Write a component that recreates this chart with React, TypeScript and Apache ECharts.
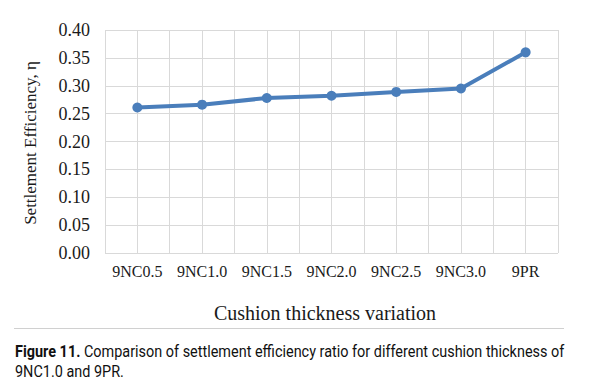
import React, { useEffect, useRef } from "react";
import * as echarts from "echarts";

const categories = ["9NC0.5", "9NC1.0", "9NC1.5", "9NC2.0", "9NC2.5", "9NC3.0", "9PR"];
const efficiency = [0.261, 0.266, 0.278, 0.282, 0.289, 0.295, 0.36];
const yTicks = { min: 0, max: 0.4, interval: 0.05 };
const yTitle = "Settlement Efficiency, η";
const xTitle = "Cushion thickness variation";
const captionBold = "Figure 11.";
const captionLine1 = " Comparison of settlement efficiency ratio for different cushion thickness of";
const captionLine2 = "9NC1.0 and 9PR.";

export default function App() {
  const ref = useRef<HTMLDivElement>(null);
  useEffect(() => {
    if (!ref.current) return;
    const chart = echarts.init(ref.current, null, { renderer: "svg" });
    const serif = "'Liberation Serif', 'DejaVu Serif', serif";
    const cap = "'Roboto', 'Liberation Sans', sans-serif";
    chart.setOption({
      animation: false,
      backgroundColor: "#ffffff",
      grid: { left: 105, right: 34, top: 30, bottom: 138, containLabel: false },
      xAxis: [
        {
          type: "category",
          data: categories,
          boundaryGap: true,
          axisLine: { show: false },
          axisTick: { show: false },
          splitLine: { show: false },
          axisLabel: { color: "#1a1a1a", fontFamily: serif, fontSize: 16, margin: 10, interval: 0 },
        },
        {
          type: "value",
          min: 0,
          max: categories.length * 2,
          interval: 1,
          show: true,
          axisLine: { show: false },
          axisTick: { show: false },
          axisLabel: { show: false },
          splitLine: { show: true, lineStyle: { color: "#d9d9d9", width: 1 } },
        },
      ],
      yAxis: {
        type: "value",
        min: yTicks.min,
        max: yTicks.max,
        interval: yTicks.interval,
        axisLine: { show: false },
        axisTick: { show: false },
        axisLabel: {
          color: "#1a1a1a",
          fontFamily: serif,
          fontSize: 18,
          margin: 15,
          formatter: (v: number) => v.toFixed(2),
        },
        splitLine: { show: true, lineStyle: { color: "#d9d9d9", width: 1 } },
      },
      series: [
        {
          type: "line",
          xAxisIndex: 0,
          data: efficiency,
          symbol: "circle",
          symbolSize: 10,
          lineStyle: { color: "#4a7ebb", width: 4 },
          itemStyle: { color: "#4a7ebb" },
        },
      ],
      graphic: [
        {
          type: "text",
          x: 30,
          y: 143,
          rotation: Math.PI / 2,
          style: {
            text: yTitle,
            fill: "#1a1a1a",
            font: `17px ${serif}`,
            align: "center",
            verticalAlign: "middle",
          },
        },
        {
          type: "text",
          x: 325,
          y: 313,
          style: {
            text: xTitle,
            fill: "#1a1a1a",
            font: `20px ${serif}`,
            align: "center",
            verticalAlign: "middle",
          },
        },
        {
          type: "line",
          shape: { x1: 14, y1: 328.5, x2: 564, y2: 328.5 },
          style: { stroke: "#d0d0d0", lineWidth: 1 },
        },
        {
          type: "text",
          x: 15,
          y: 352,
          scaleX: 0.875,
          style: {
            text: `{b|${captionBold}}{r|${captionLine1}}`,
            verticalAlign: "middle",
            rich: {
              b: { font: `bold 16.5px ${cap}`, fill: "#111" },
              r: { font: `16.5px ${cap}`, fill: "#111" },
            },
          },
        },
        {
          type: "text",
          x: 15,
          y: 372,
          scaleX: 0.875,
          style: {
            text: captionLine2,
            fill: "#111",
            font: `16.5px ${cap}`,
            verticalAlign: "middle",
          },
        },
      ],
    });
    return () => chart.dispose();
  }, []);
  return <div ref={ref} style={{ width: 592, height: 391, margin: -8 }} />;
}
